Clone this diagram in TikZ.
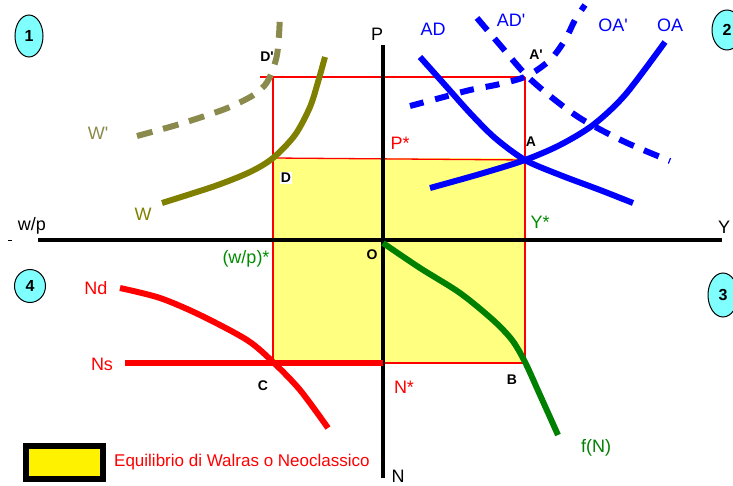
\documentclass[tikz,border=0pt]{standalone}
\usepackage{fontspec}
\setmainfont{Liberation Sans}
\usepackage{xcolor}
\usetikzlibrary{positioning, shapes.geometric}

\definecolor{wolive}{RGB}{128,128,0}
\definecolor{wgray}{RGB}{138,138,76}
\definecolor{fgreen}{RGB}{0,128,0}
\definecolor{lgreen}{RGB}{0,140,0}
\definecolor{quadcyan}{RGB}{128,255,255}
\definecolor{eqyellow}{RGB}{255,255,128}
\definecolor{pblue}{RGB}{0,0,255}
\newcommand{\apos}{\textquotesingle}

\begin{document}
\begin{tikzpicture}[
    x=1pt, y=-1pt,
    lbl/.style={font=\fontsize{18}{21}\selectfont, inner sep=0pt},
    ptlab/.style={font=\fontsize{14}{16}\selectfont\bfseries, inner sep=0pt},
    quad/.style={ellipse, draw, fill=quadcyan, line width=1pt,
                 inner sep=0pt, font=\fontsize{16}{18}\selectfont\bfseries},
    guide/.style={red, line width=1.3pt},
    curve/.style={line width=6pt},
    dcurve/.style={line width=6pt, dash pattern=on 16pt off 11pt}
  ]
  \useasboundingbox (0,0) rectangle (733,486);

  % key points
  \coordinate (O) at (383,240);
  \coordinate (A) at (525,160);
  \coordinate (A') at (525,77);
  \coordinate (D) at (273,158);
  \coordinate (B) at (525,363);
  \coordinate (C) at (273,363);

  % equilibrium area and guide lines
  \fill[eqyellow] (D) rectangle (B);
  \draw[guide] (260,77) -- (A');
  \draw[guide] (273,77) -- (C) -- (B) -- (A');
  \draw[guide] (D) -- (A);

  % axes
  \draw[line width=4pt] (38,240) -- (722,240);
  \draw[line width=3.5pt] (383,45) -- (383,478);
  \draw[line width=1pt] (8,241) -- (12,241);

  % quadrant 1: wage curves
  \draw[dcurve, wgray] plot[smooth] coordinates
    {(137,136) (180,124) (225,109) (252,96) (265,85) (272,72) (277,55) (279,35) (280,15)};
  \draw[curve, wolive] plot[smooth] coordinates
    {(162,203) (215,186) (250,172) (273,158) (295,135) (310,107) (318,82) (325,57)};

  % quadrant 2: AD and OA
  \draw[curve, pblue] plot[smooth] coordinates
    {(420,57) (445,85) (470,113) (495,138) (525,160) (560,175) (600,190) (633,203)};
  \draw[curve, pblue] plot[smooth] coordinates
    {(430,188) (480,174) (525,160) (560,145) (593,125) (625,95) (665,42)};
  \draw[dcurve, pblue] plot[smooth] coordinates
    {(477,18) (500,45) (527,76) (555,100) (583,120) (625,142) (670,161)};
  \draw[dcurve, pblue, dash pattern=on 14pt off 12pt] plot[smooth] coordinates
    {(410,106) (440,98) (470,90) (500,84) (527,76) (550,60) (565,40) (575,20) (585,5)};

  % quadrant 3: production function
  \draw[curve, fgreen] plot[smooth] coordinates
    {(383,243) (420,268) (460,293) (493,320) (512,340) (525,362) (540,395) (558,435)};

  % quadrant 4: labour market
  \draw[curve, red] (125,363) -- (383,363);
  \draw[curve, red] plot[smooth] coordinates
    {(120,288) (160,298) (200,315) (247,340) (273,362) (300,390) (328,428)};

  % axis labels
  \node[lbl] (wp) at (32,226) {w/p};
  \node[lbl] (Ylab) at (724,227) {Y};
  \node[lbl] (Plab) at (377,34) {P};
  \node[lbl] (Nlab) at (398,476) {N};
  \node[ptlab] (Olab) at (372,255) {O};

  % curve labels
  \node[lbl, wgray] (Wplab) at (98,133) {W\apos};
  \node[lbl, wolive] (Wlab) at (143,214) {W};
  \node[lbl, pblue] (ADlab) at (433,29) {AD};
  \node[lbl, pblue] (ADplab) at (511,20) {AD\apos};
  \node[lbl, pblue] (OAplab) at (613,25) {OA\apos};
  \node[lbl, pblue] (OAlab) at (670,25) {OA};
  \node[lbl, fgreen] (fNlab) at (596,448) {f(N)};
  \node[lbl, red] (Ndlab) at (96,288) {Nd};
  \node[lbl, red] (Nslab) at (102,364) {Ns};

  % equilibrium values
  \node[lbl, red] (Pstar) at (400,143) {P*};
  \node[lbl, lgreen] (Ystar) at (540,222) {Y*};
  \node[lbl, lgreen] (wpstar) at (246,259) {(w/p)*};
  \node[lbl, red] (Nstar) at (404,387) {N*};

  % point labels
  \node[ptlab] (Alab) at (531,142) {A};
  \node[ptlab] (Aplab) at (536,55) {A\apos};
  \node[ptlab, fill=white, inner sep=1pt] (Dlab) at (286,178) {D};
  \node[ptlab] (Dplab) at (267,57) {D\apos};
  \node[ptlab] (Clab) at (263,386) {C};
  \node[ptlab] (Blab) at (512,380) {B};

  % quadrant numbers
  \node[quad, minimum width=28pt, minimum height=42pt] (q1) at (29,36) {1};
  \node[quad, minimum width=30pt, minimum height=40pt] (q2) at (727,30) {2};
  \node[quad, minimum width=30pt, minimum height=44pt] (q3) at (723,295) {3};
  \node[quad, minimum width=31pt, minimum height=33pt] (q4) at (30,286) {4};

  % legend
  \node[draw=black, line width=6pt, fill=yellow, minimum width=77pt,
        minimum height=33pt, inner sep=0pt] (legbox) at (64.5,462.5) {};
  \node[lbl, red, font=\fontsize{17}{20}\selectfont, right=8pt of legbox] (legtext)
    {Equilibrio di Walras o Neoclassico};
\end{tikzpicture}
\end{document}
